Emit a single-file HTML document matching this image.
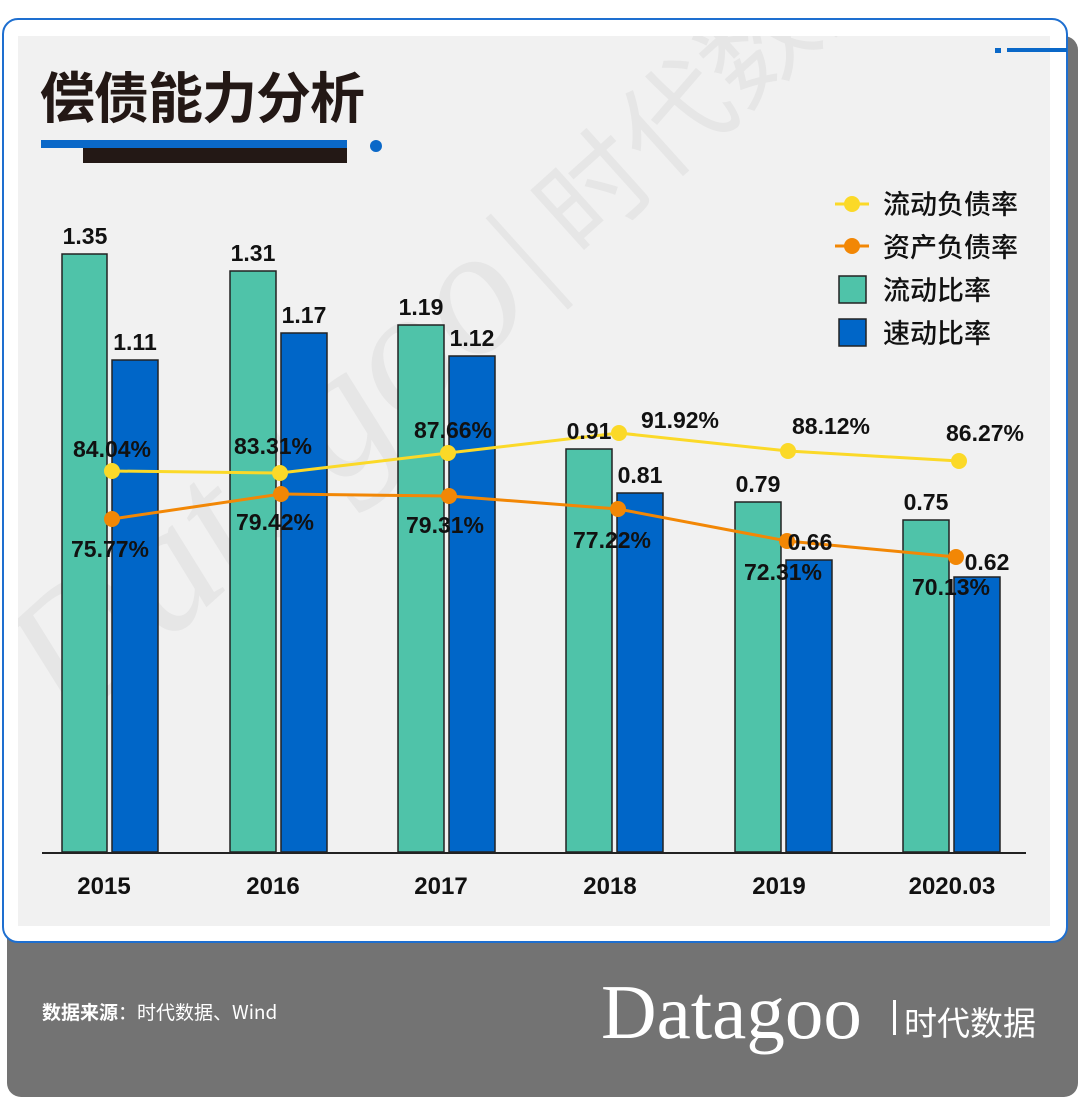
<!DOCTYPE html>
<html><head><meta charset="utf-8"><style>
html,body{margin:0;padding:0;background:#fff;}
body{width:1080px;height:1110px;overflow:hidden;}
</style></head><body>
<svg width="1080" height="1110" viewBox="0 0 1080 1110" xmlns="http://www.w3.org/2000/svg" font-family="Liberation Sans, Noto Sans CJK SC, sans-serif">
<defs><clipPath id="pc"><rect x="18" y="36" width="1032" height="890"/></clipPath></defs>
<rect x="0" y="0" width="1080" height="1110" fill="#fff"/>
<rect x="7" y="36" width="1071" height="1061" rx="14" fill="#737373"/>
<rect x="3" y="19" width="1064" height="923" rx="15" fill="#fff" stroke="#1e6fd0" stroke-width="2"/>
<rect x="18" y="36" width="1032" height="890" fill="#f1f1f1"/>
<rect x="995" y="48" width="6" height="5" fill="#0a68c8"/>
<rect x="1007" y="48" width="60" height="4" fill="#0a68c8"/>
<!-- watermark -->
<g clip-path="url(#pc)">
<g transform="translate(70,730) rotate(-42)" fill="#e6e6e6">
<text x="0" y="0" font-family="Liberation Serif, serif" font-size="180" font-style="italic">Datagoo</text>
<text x="640" y="-10" font-family="Noto Sans CJK SC, sans-serif" font-size="110">| 时代数据</text>
</g>
</g>
<text x="40" y="118" font-size="55" font-weight="bold" fill="#231815" font-family="Noto Sans CJK SC, sans-serif" letter-spacing="-1">偿债能力分析</text>
<rect x="41" y="140" width="306" height="8" fill="#0a68c8"/>
<rect x="83" y="148" width="264" height="15" fill="#231815"/>
<circle cx="376" cy="146" r="6" fill="#0a68c8"/>
<g stroke="#222" stroke-width="1.5">
<rect x="62" y="254" width="45" height="598" fill="#4fc3a9"/>
<rect x="112" y="360" width="46" height="492" fill="#0066c8"/>
<rect x="230" y="271" width="46" height="581" fill="#4fc3a9"/>
<rect x="281" y="333" width="46" height="519" fill="#0066c8"/>
<rect x="398" y="325" width="46" height="527" fill="#4fc3a9"/>
<rect x="449" y="356" width="46" height="496" fill="#0066c8"/>
<rect x="566" y="449" width="46" height="403" fill="#4fc3a9"/>
<rect x="617" y="493" width="46" height="359" fill="#0066c8"/>
<rect x="735" y="502" width="46" height="350" fill="#4fc3a9"/>
<rect x="786" y="560" width="46" height="292" fill="#0066c8"/>
<rect x="903" y="520" width="46" height="332" fill="#4fc3a9"/>
<rect x="954" y="577" width="46" height="275" fill="#0066c8"/>
</g>
<line x1="42" y1="853" x2="1026" y2="853" stroke="#222" stroke-width="2"/>
<polyline points="112,471 280,473 448,453 619,433 788,451 959,461" fill="none" stroke="#fbd928" stroke-width="3"/>
<polyline points="112,519 281,494 449,496 618,509 787,541 956,557" fill="none" stroke="#f28705" stroke-width="3"/>
<g fill="#fbd928"><circle cx="112" cy="471" r="8"/><circle cx="280" cy="473" r="8"/><circle cx="448" cy="453" r="8"/><circle cx="619" cy="433" r="8"/><circle cx="788" cy="451" r="8"/><circle cx="959" cy="461" r="8"/></g>
<g fill="#f28705"><circle cx="112" cy="519" r="8"/><circle cx="281" cy="494" r="8"/><circle cx="449" cy="496" r="8"/><circle cx="618" cy="509" r="8"/><circle cx="787" cy="541" r="8"/><circle cx="956" cy="557" r="8"/></g>
<g font-size="23" font-weight="bold" fill="#111" text-anchor="middle">
<text x="85" y="244">1.35</text>
<text x="135" y="350">1.11</text>
<text x="253" y="261">1.31</text>
<text x="304" y="323">1.17</text>
<text x="421" y="315">1.19</text>
<text x="472" y="346">1.12</text>
<text x="589" y="439">0.91</text>
<text x="640" y="483">0.81</text>
<text x="758" y="492">0.79</text>
<text x="810" y="550">0.66</text>
<text x="926" y="510">0.75</text>
<text x="987" y="570">0.62</text>
<text x="112" y="457">84.04%</text>
<text x="273" y="454">83.31%</text>
<text x="453" y="438">87.66%</text>
<text x="680" y="428">91.92%</text>
<text x="831" y="434">88.12%</text>
<text x="985" y="441">86.27%</text>
<text x="110" y="557">75.77%</text>
<text x="275" y="530">79.42%</text>
<text x="445" y="533">79.31%</text>
<text x="612" y="548">77.22%</text>
<text x="783" y="580">72.31%</text>
<text x="951" y="595">70.13%</text>
</g>
<g font-size="24" font-weight="bold" fill="#111" text-anchor="middle">
<text x="104" y="894">2015</text>
<text x="273" y="894">2016</text>
<text x="441" y="894">2017</text>
<text x="610" y="894">2018</text>
<text x="779" y="894">2019</text>
<text x="952" y="894">2020.03</text>
</g>
<line x1="835" y1="204" x2="869" y2="204" stroke="#fbd928" stroke-width="3"/>
<circle cx="852" cy="204" r="8" fill="#fbd928"/>
<line x1="835" y1="246" x2="869" y2="246" stroke="#f28705" stroke-width="3"/>
<circle cx="852" cy="246" r="8" fill="#f28705"/>
<rect x="839" y="276" width="27" height="27" fill="#4fc3a9" stroke="#222" stroke-width="1.5"/>
<rect x="839" y="319" width="27" height="27" fill="#0066c8" stroke="#222" stroke-width="1.5"/>
<g font-size="27" fill="#111" font-family="Noto Sans CJK SC, sans-serif" font-weight="500">
<text x="883" y="214">流动负债率</text>
<text x="883" y="257">资产负债率</text>
<text x="883" y="300">流动比率</text>
<text x="883" y="343">速动比率</text>
</g>
<text x="42" y="1019" font-size="19" fill="#fff" font-family="Noto Sans CJK SC, sans-serif"><tspan font-weight="bold">数据来源</tspan>：时代数据、Wind</text>
<text x="601" y="1038" font-size="77" fill="#fff" font-family="Liberation Serif, serif">Datagoo</text>
<rect x="893" y="1000" width="3" height="35" fill="#fff"/>
<text x="904" y="1035" font-size="33" fill="#fff" font-family="Noto Sans CJK SC, sans-serif">时代数据</text>
</svg>
</body></html>
